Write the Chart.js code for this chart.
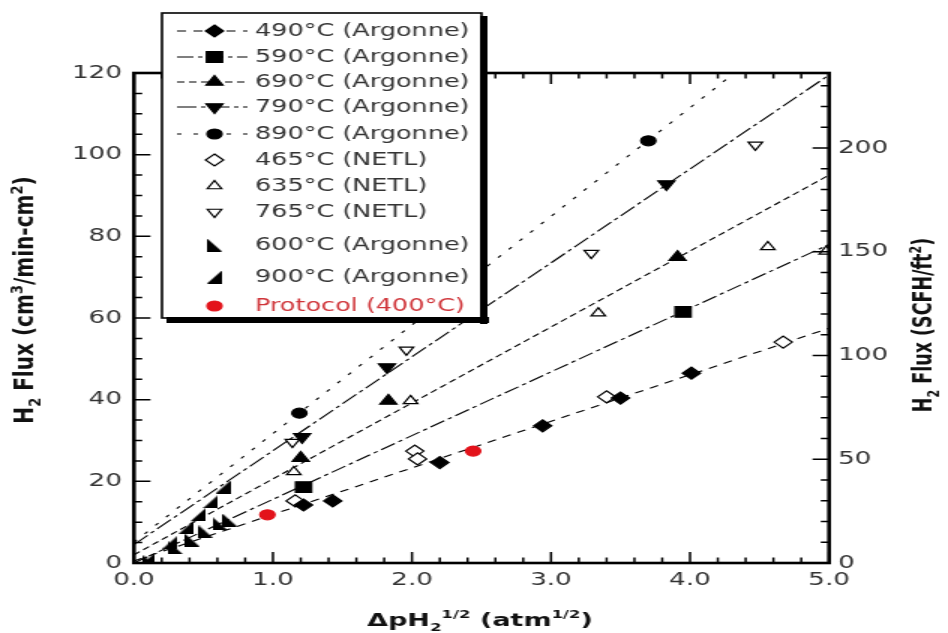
<!DOCTYPE html>
<html><head><meta charset="utf-8">
<script src="https://cdn.jsdelivr.net/npm/chart.js@4/dist/chart.umd.min.js"></script>
<style>
html,body{margin:0;padding:0;background:#fff;overflow:hidden;width:948px;height:633px}
#wrap{position:absolute;left:0;top:0;width:632px;height:633px;transform:scaleX(1.5);transform-origin:0 0}
</style></head><body>
<div id="wrap"><canvas id="c" width="632" height="633"></canvas></div>
<script>
// ---------- data (x = ΔpH2^1/2 [atm^1/2], y = H2 flux [cm3/min-cm2]) ----------
const ARGONNE_490 = [[1.22,14.2],[1.43,15.2],[2.20,24.6],[2.94,33.6],[3.50,40.4],[4.01,46.5]];
const ARGONNE_590 = [[1.22,18.6],[3.95,61.5]];
const ARGONNE_690 = [[1.20,25.7],[1.83,39.7],[3.91,74.9]];
const ARGONNE_790 = [[1.21,30.9],[1.82,48.0],[3.83,92.8]];
const ARGONNE_890 = [[1.19,36.7],[3.70,103.4]];
const NETL_465 = [[1.16,15.2],[2.02,27.4],[2.04,25.5],[3.40,40.7],[4.67,54.1]];
const NETL_635 = [[1.15,22.3],[1.99,39.7],[3.34,61.2],[4.56,77.4],[4.98,76.3]];
const NETL_765 = [[1.14,29.6],[1.96,52.2],[3.29,75.9],[4.47,102.4]];
const ARGONNE_600 = [[0.12,0.3],[0.30,3.7],[0.42,5.6],[0.52,7.6],[0.62,9.6],[0.69,10.5]];
const ARGONNE_900 = [[0.09,0.7],[0.26,5.1],[0.37,8.6],[0.46,11.8],[0.55,15.0],[0.64,18.6]];
const PROTOCOL_400 = [[0.96,11.8],[2.44,27.4]];
// fitted lines (end points)
const FIT_490 = [[0,0.5],[5,57.5]];
const FIT_590 = [[0,0.0],[5,78.0]];
const FIT_690 = [[0,2.0],[5,95.0]];
const FIT_790 = [[0,4.5],[5,119.5]];
const FIT_890 = [[0,5.1],[5,138.1]];
// labels
const SERIES_LABELS = ['490°C (Argonne)','590°C (Argonne)','690°C (Argonne)','790°C (Argonne)','890°C (Argonne)',
  '465°C (NETL)','635°C (NETL)','765°C (NETL)','600°C (Argonne)','900°C (Argonne)','Protocol (400°C)'];
const X_TICKS = [0,1,2,3,4,5];
const Y_TICKS = [0,20,40,60,80,100,120];
const Y2_TICKS = [0,50,100,150,200];
const X_RANGE = [0,5], Y_RANGE = [0,120], Y2_RANGE = [0,236.2];

// ---------- styles ----------
const FONT = '"DejaVu Sans", sans-serif';
function wedge(kind){
  const c=document.createElement('canvas'); c.width=10; c.height=13;
  const g=c.getContext('2d'); g.fillStyle='#000'; g.beginPath();
  if(kind==='L'){ g.moveTo(0,0); g.lineTo(0,13); g.lineTo(10,13); }
  else { g.moveTo(10,0); g.lineTo(10,13); g.lineTo(0,13); }
  g.closePath(); g.fill(); return c;
}
const W600 = wedge('L'), W900 = wedge('R');
const pts = a => a.map(p=>({x:p[0],y:p[1]}));
const markerStyles = [
  {data:ARGONNE_490, style:'rectRot', r:6, fill:'#000', rot:0, line:FIT_490, dash:[6,5]},
  {data:ARGONNE_590, style:'rect', r:7.5, fill:'#000', rot:0, line:FIT_590, dash:[11,3,3,3]},
  {data:ARGONNE_690, style:'triangle', r:6.5, fill:'#000', rot:0, line:FIT_690, dash:[5,3]},
  {data:ARGONNE_790, style:'triangle', r:6.5, fill:'#000', rot:180, line:FIT_790, dash:[13,3,3,3]},
  {data:ARGONNE_890, style:'circle', r:5, fill:'#000', rot:0, line:FIT_890, dash:[3,8]},
  {data:NETL_465, style:'rectRot', r:6, fill:'#fff', rot:0},
  {data:NETL_635, style:'triangle', r:5.5, fill:'#fff', rot:0},
  {data:NETL_765, style:'triangle', r:5.5, fill:'#fff', rot:180},
  {data:ARGONNE_600, style:W600, r:6, fill:'#000', rot:0},
  {data:ARGONNE_900, style:W900, r:6, fill:'#000', rot:0},
  {data:PROTOCOL_400, style:'circle', r:5, fill:'#e3131b', border:'#e3131b', rot:0, text:'#d0353a'}
];

const datasets = [];
markerStyles.forEach((m,i)=>{
  datasets.push({label:SERIES_LABELS[i], data:pts(m.data), pointStyle:m.style, pointRadius:m.r,
    pointHoverRadius:m.r, rotation:m.rot, backgroundColor:m.fill, borderColor:m.border||'#000',
    pointBorderWidth:1.2, showLine:false, order:0});
  if(m.line){
    datasets.push({label:SERIES_LABELS[i]+' fit', data:pts(m.line), showLine:true, pointRadius:0,
      borderColor:'#000', borderWidth:1.1, borderDash:m.dash, fill:false, order:10});
  }
});

// ---------- layout (internal px; canvas is stretched 1.5x horizontally) ----------
const AREA = {left:89.3, right:552.7, top:73, bottom:563};
const LEG = {x0:108, y0:13, x1:321, y1:318, lineX0:118, lineX1:165, markX:143, textX:170,
  rows:[31,57,82,107,134,160,186,212,245,277,306]};

function drawMarker(ctx, m, x, y){
  const st=m.style, r=m.r;
  ctx.save(); ctx.setLineDash([]); ctx.fillStyle=m.fill; ctx.strokeStyle=m.border||'#000'; ctx.lineWidth=1.2;
  if(st instanceof HTMLCanvasElement){ ctx.drawImage(st, x-st.width/2, y-st.height/2); ctx.restore(); return; }
  ctx.beginPath();
  if(st==='circle'){ ctx.arc(x,y,r,0,Math.PI*2); }
  else if(st==='rect'){ const s=r*Math.SQRT1_2; ctx.rect(x-s,y-s,2*s,2*s); }
  else if(st==='rectRot'){ ctx.moveTo(x,y-r); ctx.lineTo(x+r,y); ctx.lineTo(x,y+r); ctx.lineTo(x-r,y); ctx.closePath(); }
  else if(st==='triangle'){
    let a=m.rot*Math.PI/180;
    for(let k=0;k<3;k++){ const px=x+Math.sin(a)*r, py=y-Math.cos(a)*r; k?ctx.lineTo(px,py):ctx.moveTo(px,py); a+=2*Math.PI/3; }
    ctx.closePath();
  }
  ctx.fill(); ctx.stroke(); ctx.restore();
}

function drawRich(ctx, runs, cx, cy, size, rot, kx){
  ctx.save(); ctx.translate(cx,cy); ctx.rotate(rot); ctx.scale(kx,1);
  ctx.fillStyle='#111'; ctx.textBaseline='alphabetic'; ctx.textAlign='left';
  const big=`bold ${size}px ${FONT}`, small=`bold ${Math.round(size*0.62)}px ${FONT}`;
  let total=0; const ws=runs.map(r=>{ctx.font=r[1]==='n'?big:small; const w=ctx.measureText(r[0]).width; total+=w; return w;});
  let x=-total/2;
  runs.forEach((r,i)=>{ ctx.font=r[1]==='n'?big:small;
    const dy=r[1]==='sub'?size*0.3:(r[1]==='sup'?-size*0.42:0);
    ctx.fillText(r[0],x,dy); x+=ws[i]; });
  ctx.restore();
}

const decor = {
  id:'decor',
  afterDatasetsDraw(chart){
    const ctx=chart.ctx, a=chart.chartArea, xs=chart.scales.x, ys=chart.scales.y, y2=chart.scales.y2;
    ctx.save(); ctx.strokeStyle='#000'; ctx.lineWidth=1.5; ctx.setLineDash([]);
    ctx.beginPath();
    for(let i=0;i<=25;i++){ const v=i*0.2, px=xs.getPixelForValue(v), L=(i%5===0)?11:5.5;
      ctx.moveTo(px,a.bottom); ctx.lineTo(px,a.bottom-L); ctx.moveTo(px,a.top); ctx.lineTo(px,a.top+L); }
    for(let v=0; v<=120; v+=5){ const py=ys.getPixelForValue(v), L=(v%20===0)?11:5.5; ctx.moveTo(a.left,py); ctx.lineTo(a.left+L,py); }
    for(let v=0; v<=230; v+=10){ const py=y2.getPixelForValue(v), L=(v%50===0)?11:5.5; ctx.moveTo(a.right,py); ctx.lineTo(a.right-L,py); }
    ctx.stroke();
    ctx.lineWidth=2.6; ctx.strokeRect(a.left,a.top,a.right-a.left,a.bottom-a.top);
    ctx.restore();
  },
  afterDraw(chart){
    const ctx=chart.ctx;
    // axis titles
    drawRich(ctx, [['ΔpH','n'],['2','sub'],['1/2','sup'],[' (atm','n'],['1/2','sup'],[')','n']], 320, 626, 18, 0, 1);
    drawRich(ctx, [['H','n'],['2','sub'],[' Flux (cm','n'],['3','sup'],['/min-cm','n'],['2','sup'],[')','n']], 22, 300, 17, -Math.PI/2, 1.18);
    drawRich(ctx, [['H','n'],['2','sub'],[' Flux (SCFH/ft','n'],['2','sup'],[')','n']], 621, 325, 17.5, -Math.PI/2, 1);
    // legend box
    ctx.save();
    ctx.fillStyle='#fff'; ctx.fillRect(LEG.x0,LEG.y0,LEG.x1-LEG.x0,LEG.y1-LEG.y0);
    ctx.fillStyle='#000';
    ctx.fillRect(LEG.x1-1, LEG.y0+3, 5, LEG.y1-LEG.y0+3);
    ctx.fillRect(LEG.x0+3, LEG.y1-1, LEG.x1-LEG.x0+2, 6);
    ctx.strokeStyle='#000'; ctx.lineWidth=1.6; ctx.strokeRect(LEG.x0,LEG.y0,LEG.x1-LEG.x0,LEG.y1-LEG.y0);
    ctx.font=`17px ${FONT}`; ctx.textBaseline='middle'; ctx.textAlign='left';
    markerStyles.forEach((m,i)=>{
      const y=LEG.rows[i];
      if(m.line){ ctx.save(); ctx.strokeStyle='#000'; ctx.lineWidth=1.2; ctx.setLineDash(m.dash);
        ctx.beginPath(); ctx.moveTo(LEG.lineX0,y); ctx.lineTo(LEG.lineX1,y); ctx.stroke(); ctx.restore(); }
      drawMarker(ctx, m, LEG.markX, y);
      ctx.fillStyle=m.text||'#333'; ctx.fillText(SERIES_LABELS[i], LEG.textX, y+1);
    });
    ctx.restore();
  }
};

const tickFont = {family:FONT, size:17.5};
new Chart(document.getElementById('c'), {
  type:'scatter',
  data:{datasets},
  options:{
    responsive:false, animation:false, devicePixelRatio:1,
    layout:{padding:{top:AREA.top, left:0, right:0, bottom:0}, autoPadding:false},
    plugins:{legend:{display:false}, tooltip:{enabled:false}},
    scales:{
      x:{type:'linear', min:X_RANGE[0], max:X_RANGE[1],
        afterBuildTicks:s=>{s.ticks=X_TICKS.map(v=>({value:v}));},
        afterFit:s=>{s.height=633-AREA.bottom;},
        grid:{display:false, drawTicks:false}, border:{display:false},
        ticks:{font:tickFont, color:'#333', padding:7, maxRotation:0, callback:v=>Number(v).toFixed(1)}},
      y:{type:'linear', position:'left', min:Y_RANGE[0], max:Y_RANGE[1],
        afterBuildTicks:s=>{s.ticks=Y_TICKS.map(v=>({value:v}));},
        afterFit:s=>{s.width=AREA.left;},
        grid:{display:false, drawTicks:false}, border:{display:false},
        ticks:{font:tickFont, color:'#333', padding:8}},
      y2:{type:'linear', position:'right', min:Y2_RANGE[0], max:Y2_RANGE[1],
        afterBuildTicks:s=>{s.ticks=Y2_TICKS.map(v=>({value:v}));},
        afterFit:s=>{s.width=632-AREA.right;},
        grid:{display:false, drawTicks:false}, border:{display:false},
        ticks:{font:tickFont, color:'#333', padding:6}}
    }
  },
  plugins:[decor]
});
</script>
</body></html>
